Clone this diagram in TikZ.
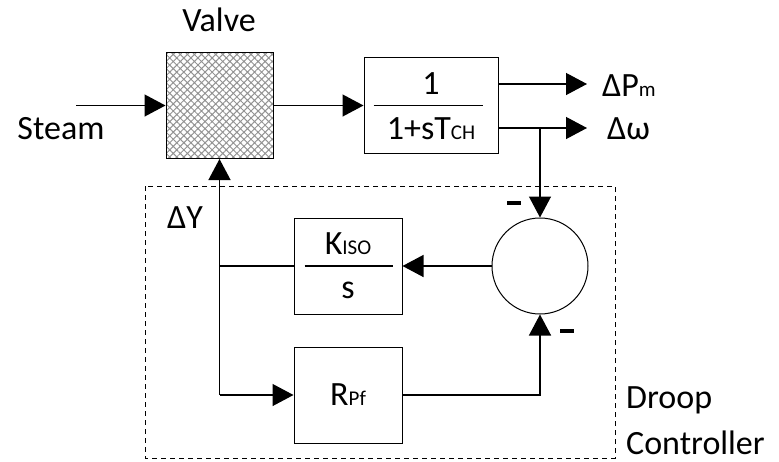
\documentclass[tikz,border=0pt]{standalone}
\usepackage{fontspec}
\setmainfont{Carlito}
\usetikzlibrary{arrows.meta,patterns.meta,calc}
\newcommand\lowtxt[1]{{\fontsize{21}{21}\selectfont #1}}

\begin{document}
\begin{tikzpicture}[x=1pt,y=-1pt,font=\fontsize{34}{40}\selectfont,
  blk/.style={draw,line width=1pt,inner sep=0pt,minimum width=108pt,minimum height=96pt},
  sig/.style={line width=1.3pt,-{Triangle[length=21pt,width=22pt]}},
  wire/.style={line width=1.3pt},
  lbl/.style={inner sep=0pt},
  minus/.style={inner sep=0pt}]
\useasboundingbox (0,0) rectangle (779,461);
\draw[line width=0.8pt,dash pattern=on 5pt off 4pt] (145,186) rectangle (615,458);
\node[blk,minimum width=107pt,minimum height=106pt,pattern={Hatch[angle=45,distance=5pt,line width=1pt]},pattern color=gray!85] (valve) at (219.5,105.5) {};
\node[blk,minimum width=134pt] (tf) at (431,105.5) {};
\node[blk] (kiso) at (348,266) {};
\node[blk] (rpf) at (348,395) {};
\node[draw,circle,line width=1pt,minimum size=96pt,inner sep=0pt] (sum) at (540,266) {};
\node[lbl] (tfnum) at (431,84) {1};
\node[lbl] (tfden) at (431,129) {1+sT\lowtxt{CH}};
\draw[line width=1.3pt] ($(tf.west)+(10,0)$) -- ($(tf.east)+(-16,0)$);
\node[lbl] (kisonum) at (348,244) {K\lowtxt{ISO}};
\node[lbl] (kisoden) at (348,290) {s};
\draw[line width=1.3pt] ($(kiso.west)+(11,0)$) -- ($(kiso.east)+(-10,0)$);
\node[lbl] (rpftxt) at (348,395) {R\lowtxt{Pf}};
\node[lbl,anchor=base] (valvetxt) at (219,31) {Valve};
\node[lbl,anchor=base] (steam) at (61,139) {Steam};
\node[lbl,anchor=base west] (dpm) at (602,96) {ΔP\lowtxt{m}};
\node[lbl,anchor=base west] (dw) at (607,139) {Δω};
\node[lbl,anchor=base west] (dy) at (167,228) {ΔY};
\node[lbl,anchor=base west] (droop) at (626,408) {Droop};
\node[lbl,anchor=base west] (ctrl) at (626,454) {Controller};
\node[minus] (mtop) at (514,203) {\rule{14pt}{4pt}};
\node[minus] (mbot) at (567,331) {\rule{14pt}{4pt}};
\coordinate (steamin) at (76,105.5);
\coordinate (pmout) at (587,84);
\coordinate (dwout) at (587,128);
\coordinate (br) at (sum.north |- dwout);
\coordinate (jn) at (valve.south |- kiso.west);
\coordinate (lo) at (valve.south |- rpf.west);
\draw[sig] (steamin) -- (valve.west);
\draw[sig] (valve.east) -- (tf.west);
\draw[sig] (tf.east |- pmout) -- (pmout);
\draw[sig] (tf.east |- dwout) -- (dwout);
\draw[sig] (br) -- (sum.north);
\draw[sig] (sum.west) -- (kiso.east);
\draw[wire] (kiso.west) -- (jn);
\draw[sig] (lo) -- (valve.south);
\draw[sig] (lo) -- (rpf.west);
\draw[sig] (rpf.east) -| (sum.south);
\end{tikzpicture}
\end{document}
